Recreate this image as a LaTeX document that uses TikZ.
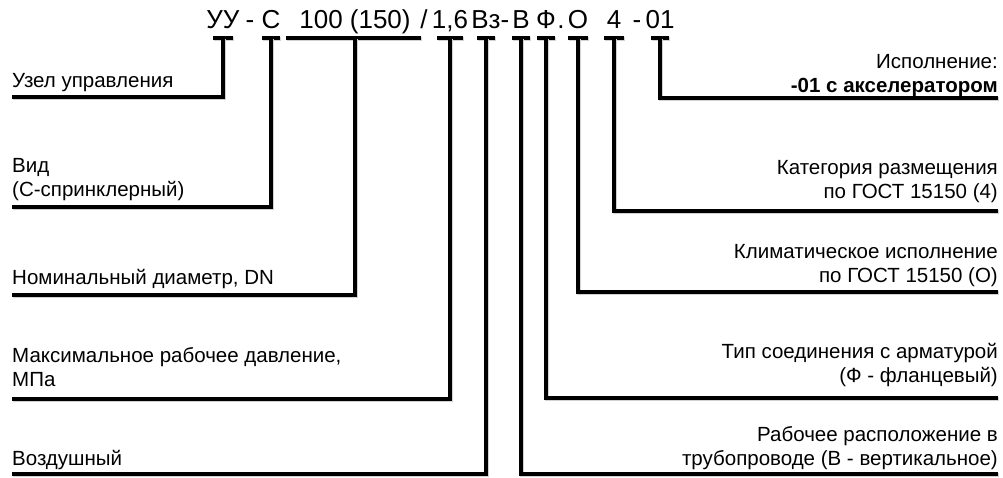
\documentclass[tikz,border=0pt]{standalone}
\usepackage{fontspec}
\setmainfont{Liberation Sans}
\usetikzlibrary{calc}

\tikzset{
  code/.style={font=\fontsize{26}{26}\selectfont, inner sep=0pt, anchor=base},
  lbl/.style={font=\fontsize{20.5}{24.5}\selectfont, inner sep=0pt, text depth=0pt},
  lead/.style={line width=3.5pt, preaction={draw=gray!35, line width=3.5pt, transform canvas={shift={(0.8pt,-0.8pt)}}}},
}
\newcommand{\teebar}[2]{\draw[lead] ($(#1 |- bar)+(-#2,0)$) -- ($(#1 |- bar)+(#2,0)$);}

\begin{document}
\begin{tikzpicture}[x=1pt, y=-1pt]
\useasboundingbox (0,0) rectangle (1003,477);
\coordinate (bar) at (0,38);
% designation string
\node[code] (uu) at (223,28) {УУ}; \node[code] (d1) at (250,28) {-}; \node[code] (vid) at (271,28) {С};
\node[code] (dn) at (355,28) {100 (150)}; \node[code] (sl) at (424,28) {/}; \node[code] (pn) at (450,28) {1,6};
\node[code] (vz) at (486,28) {Вз}; \node[code] (d2) at (505,28) {-}; \node[code] (vv) at (521,28) {В};
\node[code] (ff) at (546,28) {Ф}; \node[code] (dt) at (561,28) {.}; \node[code] (oo) at (578,28) {О};
\node[code] (kk) at (614,28) {4}; \node[code] (d3) at (637,28) {-}; \node[code] (ex) at (660,28) {01};
% left labels
\node[lbl, anchor=south west] (l1) at (12,88) {Узел управления};
\node[lbl, anchor=south west, align=left] (l2) at (12,197) {Вид\\(С-спринклерный)};
\node[lbl, anchor=south west] (l3) at (12,285) {Номинальный диаметр, DN};
\node[lbl, anchor=south west, align=left] (l4) at (12,387) {Максимальное рабочее давление,\\МПа};
\node[lbl, anchor=south west] (l5) at (12,466) {Воздушный};
% right labels
\node[lbl, anchor=south east, align=right] (r1) at (998,93) {Исполнение:\\\textbf{-01 с акселератором}};
\node[lbl, anchor=south east, align=right] (r2) at (998,199) {Категория размещения\\по ГОСТ 15150 (4)};
\node[lbl, anchor=south east, align=right] (r3) at (998,283) {Климатическое исполнение\\по ГОСТ 15150 (О)};
\node[lbl, anchor=south east, align=right] (r4) at (998,383) {Тип соединения с арматурой\\(Ф - фланцевый)};
\node[lbl, anchor=south east, align=right] (r5) at (998,466) {Рабочее расположение в\\трубопроводе (В - вертикальное)};
% line ends
\coordinate (e1) at (12,97); \coordinate (e2) at (12,207); \coordinate (e3) at (12,295); \coordinate (e4) at (12,399); \coordinate (e5) at (12,474);
\coordinate (f1) at (998,98); \coordinate (f2) at (998,211); \coordinate (f3) at (998,292); \coordinate (f4) at (998,398); \coordinate (f5) at (998,474);
% tees
\teebar{uu}{10} \teebar{vid}{9} \draw[lead] (286,38) -- (421,38); \teebar{pn}{13} \teebar{vz}{9}
\teebar{vv}{9} \teebar{ff}{9} \teebar{oo}{10} \teebar{kk}{10} \teebar{ex}{9}
% leaders
\draw[lead] (uu |- bar) -- (uu |- e1) -- (e1); \draw[lead] (vid |- bar) -- (vid |- e2) -- (e2);
\draw[lead] (dn |- bar) -- (dn |- e3) -- (e3); \draw[lead] (pn |- bar) -- (pn |- e4) -- (e4);
\draw[lead] (vz |- bar) -- (vz |- e5) -- (e5);
\draw[lead] (ex |- bar) -- (ex |- f1) -- (f1); \draw[lead] (kk |- bar) -- (kk |- f2) -- (f2);
\draw[lead] (oo |- bar) -- (oo |- f3) -- (f3); \draw[lead] (ff |- bar) -- (ff |- f4) -- (f4);
\draw[lead] (vv |- bar) -- (vv |- f5) -- (f5);
\end{tikzpicture}
\end{document}
